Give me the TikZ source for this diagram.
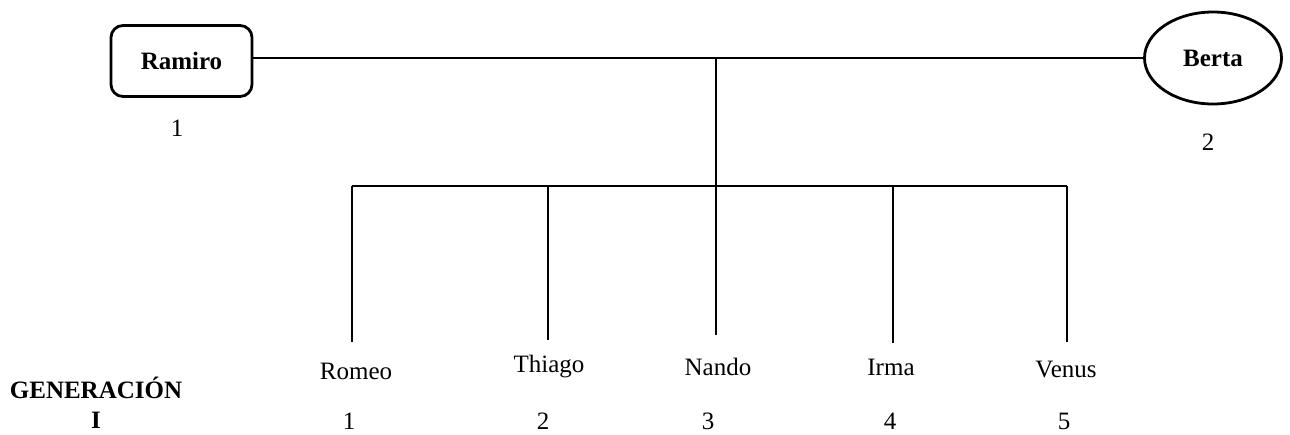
\documentclass[tikz,border=0pt]{standalone}
\usepackage{fontspec}
\setmainfont{Liberation Serif}
\usetikzlibrary{shapes.geometric}
\begin{document}
\begin{tikzpicture}[x=1pt,y=-1pt,
  every node/.style={font=\fontsize{25}{29}\selectfont, inner sep=0pt},
  line/.style={line width=2.8pt},
  person/.style={draw, line width=2.8pt, font=\fontsize{25}{29}\selectfont\bfseries},
  lbl/.style={font=\fontsize{25}{29}\selectfont}]
\useasboundingbox (0,0) rectangle (1290,434);
% parents
\node[person, rectangle, rounded corners=12pt, minimum width=141pt, minimum height=71pt] (ramiro) at (181.5,61) {Ramiro};
\node[person, ellipse, minimum width=137pt, minimum height=92pt] (berta) at (1213,58) {Berta};
\node[lbl] (n1) at (177,128) {1};
\node[lbl] (n2) at (1208,142) {2};
% marriage line
\draw[line] (ramiro.east |- 0,58) coordinate (ml) -- (berta.west) coordinate (mr);
\coordinate (mid) at (716,58);
\coordinate (sib) at (716,186);
\draw[line] (mid) -- (sib);
% children
\node[lbl] (romeo) at (356,371) {Romeo};
\node[lbl] (thiago) at (549,367) {Thiago};
\node[lbl] (nando) at (718,367) {Nando};
\node[lbl] (irma) at (891,367) {Irma};
\node[lbl] (venus) at (1066,369) {Venus};
\node[lbl] (c1) at (349,421) {1};
\node[lbl] (c2) at (543,421) {2};
\node[lbl] (c3) at (708,421) {3};
\node[lbl] (c4) at (890,421) {4};
\node[lbl] (c5) at (1064,421) {5};
\coordinate (e1) at (352,342);
\coordinate (e2) at (548,340);
\coordinate (e3) at (716,335);
\coordinate (e4) at (893,343);
\coordinate (e5) at (1067,342);
\draw[line] (e1 |- sib) -- (e5 |- sib);
\foreach \e in {e1,e2,e3,e4,e5}{\draw[line] (\e |- sib) -- (\e);}
% generation label
\node[font=\fontsize{25}{29}\selectfont\bfseries] (gen) at (96,388) {GENERACIÓN};
\node[font=\fontsize{25}{29}\selectfont\bfseries] (genI) at (96,420) {I};
\end{tikzpicture}
\end{document}
